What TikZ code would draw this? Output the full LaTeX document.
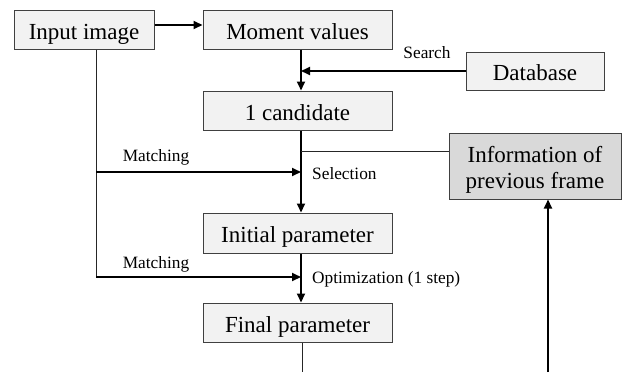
\documentclass[tikz,border=0pt]{standalone}
\usepackage{fontspec}
\setmainfont{Liberation Serif}
\usetikzlibrary{arrows.meta}
\definecolor{boxfill}{HTML}{F2F2F2}
\definecolor{infofill}{HTML}{D9D9D9}
\definecolor{boxdraw}{HTML}{404040}
\begin{document}
\begin{tikzpicture}[x=1pt,y=-1pt,
  boxbase/.style={draw=boxdraw,line width=1pt,fill=boxfill,rectangle,inner sep=0pt},
  boxfont/.style={font=\fontsize{23}{26}\selectfont},
  box/.style={boxbase,boxfont,text height=22pt,text depth=3pt},
  infobox/.style={boxbase,fill=infofill},
  infotext/.style={boxfont,align=center,inner sep=0pt},
  lab/.style={font=\fontsize{17.3}{18}\selectfont,inner sep=0pt},
  arr/.style={line width=2pt,-{Triangle[length=9pt,width=8pt]}},
  thin/.style={line width=1pt,draw=black!85}]
\useasboundingbox (0,0) rectangle (623,372);
\node[box,minimum width=140pt,minimum height=39pt] (input) at (84,29.5) {Input image};
\node[box,minimum width=189pt,minimum height=39pt] (moment) at (297.5,29.5) {Moment values};
\node[box,minimum width=189pt,minimum height=39pt] (cand) at (297.5,110.5) {1 candidate};
\node[box,minimum width=138pt,minimum height=38pt] (db) at (535,71) {Database};
\node[infobox,minimum width=172pt,minimum height=66pt] (info) at (535,166) {};
\node[infotext] (infotxt) at (535,169.5) {Information of\\previous frame};
\node[box,minimum width=189pt,minimum height=40pt] (init) at (297.5,233) {Initial parameter};
\node[box,minimum width=189pt,minimum height=39pt] (final) at (297.5,322.5) {Final parameter};
\coordinate (spine) at (301,0);
\coordinate (inx) at (96,0);
\coordinate (m1) at (96,172);
\coordinate (m2) at (96,277);
\coordinate (fend) at (302,372);
\coordinate (rend) at (548,372);
% connectors
\draw[arr] (input.east |- 0,25) -- (moment.west |- 0,25);
\draw[arr] (moment.south -| spine) -- (cand.north -| spine);
\draw[arr] (db.west) -- (spine |- db.west);
\draw[arr] (cand.south -| spine) -- (init.north -| spine);
\draw[arr] (init.south -| spine) -- (final.north -| spine);
\draw[thin] (spine |- 0,151) -- (info.west |- 0,151);
\draw[thin] (input.south -| inx) -- (m2);
\draw[arr] (m1) -- (spine |- m1);
\draw[arr] (m2) -- (spine |- m2);
\draw[thin] (final.south -| fend) -- (fend);
\draw[arr] (rend) -- (info.south -| rend);
% labels
\node[lab] (search) at (427,53) {Search};
\node[lab] (match1) at (156,157) {Matching};
\node[lab] (match2) at (156,264) {Matching};
\node[lab,anchor=west] (sel) at (312,174) {Selection};
\node[lab,anchor=west] (opt) at (312,279) {Optimization (1 step)};
\end{tikzpicture}
\end{document}
